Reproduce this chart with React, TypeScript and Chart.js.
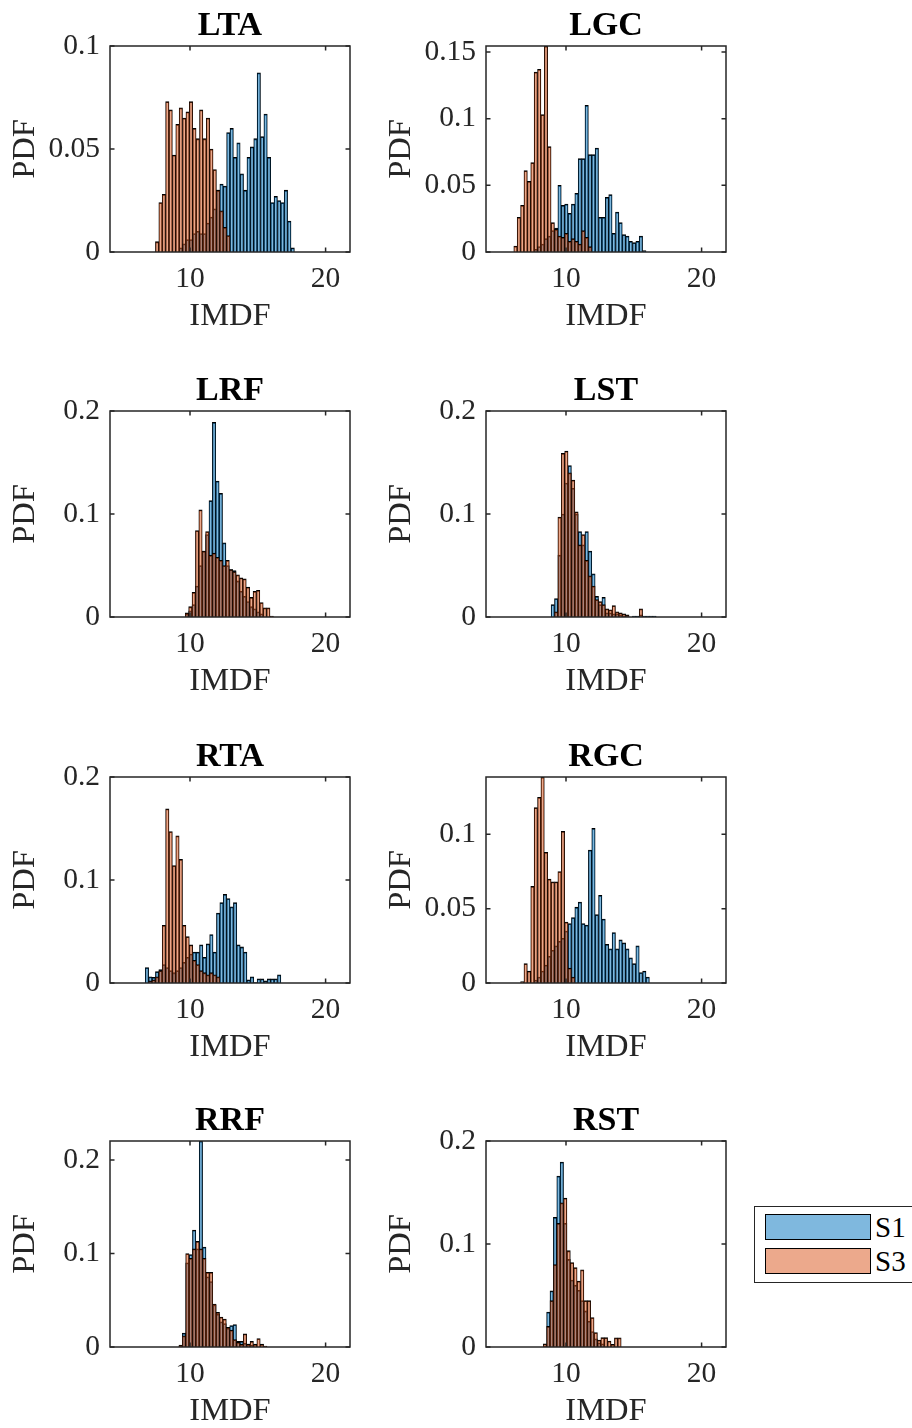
import React, { useEffect, useRef } from "react";
import { Chart, registerables } from "chart.js";

Chart.register(...registerables);

// ---------------- data ----------------
const TITLES = ["LTA", "LGC", "LRF", "LST", "RTA", "RGC", "RRF", "RST"];
const SERIES_NAMES = ["S1", "S3"];
const X_LABEL = "IMDF";
const Y_LABEL = "PDF";
const BIN_WIDTH = 0.25;
const X_MIN = 4.1;
const X_MAX = 21.8;
const X_TICKS = [10, 20];

const Y_TICKS_LTA = [0, 0.05, 0.1];
const Y_TICKS_LGC = [0, 0.05, 0.1, 0.15];
const Y_TICKS_020 = [0, 0.1, 0.2];
const Y_TICKS_RGC = [0, 0.05, 0.1];
const Y_TICKS = [Y_TICKS_LTA, Y_TICKS_LGC, Y_TICKS_020, Y_TICKS_020, Y_TICKS_020, Y_TICKS_RGC, Y_TICKS_020, Y_TICKS_020];
const Y_MAX = [0.1, 0.1545, 0.2, 0.2, 0.2, 0.1386, 0.2204, 0.2];

// left edge of the first bin of each series, per panel
const S1_START = [9.2, 7.65, 9.65, 8.9, 6.7, 7.65, 9.18, 8.32];
const S3_START = [7.45, 6.15, 9.65, 9.15, 6.95, 6.65, 9.18, 8.32];

const S1_LTA = [0.002, 0.004, 0.006, 0.006, 0.009, 0.01, 0.009, 0.009, 0.014, 0.017, 0.021, 0.03, 0.033, 0.032, 0.058, 0.06, 0.046, 0.053, 0.038, 0.03, 0.046, 0.051, 0.055, 0.087, 0.056, 0.067, 0.046, 0.024, 0.027, 0.025, 0.024, 0.03, 0.015, 0.002];
const S3_LTA = [0.005, 0.024, 0.028, 0.073, 0.069, 0.047, 0.062, 0.07, 0.065, 0.068, 0.073, 0.06, 0.055, 0.069, 0.055, 0.065, 0.05, 0.04, 0.03, 0.02, 0.012, 0.008];

const S1_LGC = [0.002, 0.004, 0.006, 0.01, 0.012, 0.016, 0.018, 0.05, 0.035, 0.036, 0.029, 0.036, 0.044, 0.07, 0.07, 0.11, 0.073, 0.073, 0.078, 0.026, 0.026, 0.041, 0.043, 0.014, 0.03, 0.022, 0.013, 0.012, 0.008, 0.007, 0.008, 0.012, 0.001];
const S3_LGC = [0.0045, 0.026, 0.035, 0.061, 0.053, 0.067, 0.135, 0.137, 0.103, 0.1545, 0.079, 0.022, 0.017, 0.012, 0.011, 0.014, 0.008, 0.01, 0.008, 0.006, 0.016, 0.011, 0.004];

const S1_LRF = [0.003, 0.006, 0.012, 0.03, 0.05, 0.064, 0.08, 0.113, 0.189, 0.132, 0.12, 0.072, 0.05, 0.046, 0.045, 0.035, 0.025, 0.02, 0.015, 0.01, 0.008, 0.005, 0.003];
const S3_LRF = [0.004, 0.01, 0.024, 0.084, 0.104, 0.064, 0.083, 0.06, 0.062, 0.058, 0.055, 0.05, 0.055, 0.046, 0.044, 0.041, 0.038, 0.037, 0.029, 0.019, 0.025, 0.026, 0.014, 0.009, 0.009, 0.001];

const S1_LST = [0.012, 0.018, 0.06, 0.1, 0.13, 0.147, 0.125, 0.1, 0.083, 0.07, 0.083, 0.064, 0.042, 0.02, 0.012, 0.019, 0.004, 0.004, 0.003, 0.003, 0.002, 0.001, 0.001, 0, 0.001, 0.001, 0.002, 0.001, 0.001, 0.001, 0.001];
const S3_LST = [0.005, 0.097, 0.159, 0.161, 0.14, 0.133, 0.102, 0.07, 0.08, 0.055, 0.04, 0.03, 0.017, 0.015, 0.012, 0.008, 0.007, 0.011, 0.005, 0.004, 0.003, 0.002, 0, 0, 0, 0.008];

const S1_RTA = [0.015, 0.006, 0.0055, 0.011, 0.013, 0.018, 0.015, 0.012, 0.01, 0.012, 0.015, 0.02, 0.025, 0.028, 0.03, 0.03, 0.037, 0.025, 0.038, 0.047, 0.03, 0.068, 0.078, 0.086, 0.082, 0.074, 0.078, 0.037, 0.035, 0.03, 0.003, 0.006, 0.0005, 0.004, 0.004, 0.002, 0.004, 0.004, 0.004, 0.008];
const S3_RTA = [0.002, 0.003, 0.006, 0.012, 0.056, 0.169, 0.147, 0.114, 0.143, 0.12, 0.056, 0.045, 0.037, 0.022, 0.018, 0.012, 0.01, 0.008, 0.01, 0.008, 0.006];

const S1_RGC = [0.002, 0.004, 0.008, 0.012, 0.018, 0.022, 0.025, 0.028, 0.03, 0.035, 0.04, 0.044, 0.051, 0.0545, 0.04, 0.039, 0.0895, 0.104, 0.046, 0.059, 0.043, 0.026, 0.023, 0.034, 0.023, 0.029, 0.027, 0.023, 0.017, 0.013, 0.025, 0.007, 0.008, 0.004];
const S3_RGC = [0.001, 0.013, 0.008, 0.065, 0.118, 0.125, 0.1386, 0.088, 0.07, 0.068, 0.068, 0.075, 0.102, 0.041, 0.01, 0.004];

const S1_RRF = [0.001, 0.015, 0.09, 0.099, 0.125, 0.105, 0.2204, 0.107, 0.075, 0.07, 0.045, 0.035, 0.027, 0.025, 0.02, 0.023, 0.024, 0.006, 0.006, 0.004, 0.003, 0.002];
const S3_RRF = [0.002, 0.012, 0.1, 0.095, 0.105, 0.113, 0.105, 0.095, 0.08, 0.08, 0.046, 0.037, 0.032, 0.03, 0.021, 0.018, 0.008, 0.005, 0.003, 0.014, 0.003, 0.006, 0.003, 0.009, 0.003, 0.001];

const S1_RST = [0.001, 0.034, 0.0545, 0.126, 0.166, 0.1796, 0.12, 0.085, 0.065, 0.06, 0.055, 0.045, 0.035, 0.025, 0.015, 0.008, 0.004, 0.003];
const S3_RST = [0.003, 0.02, 0.045, 0.08, 0.12, 0.14, 0.1445, 0.0935, 0.082, 0.077, 0.064, 0.075, 0.045, 0.045, 0.0286, 0.014, 0.0068, 0.0091, 0.0091, 0.0058, 0.0026, 0.009, 0.009];

const S1 = [S1_LTA, S1_LGC, S1_LRF, S1_LST, S1_RTA, S1_RGC, S1_RRF, S1_RST];
const S3 = [S3_LTA, S3_LGC, S3_LRF, S3_LST, S3_RTA, S3_RGC, S3_RRF, S3_RST];

// ---------------- style ----------------
const FONT = '"Liberation Serif", "Times New Roman", Times, serif';
const BLUE = "rgba(0,114,189,0.5)";
const ORANGE = "rgba(217,83,25,0.5)";
const EDGE = "#000000";
const AXIS = "#262626";

const CANVAS_W = 370;
const CANVAS_H = 332;
const COL_LEFT = [0, 376];
const ROW_TOP = [1, 366, 732, 1096];

const toPoints = (start: number, vals: number[]) =>
  vals.map((v, i) => ({
    x: Math.round((start + BIN_WIDTH * (i + 0.5)) * 10000) / 10000,
    y: v,
  }));

const boxPlugin = {
  id: "matlabBox",
  afterDraw(chart: any) {
    const { ctx, chartArea, scales } = chart;
    const { left, right, top, bottom } = chartArea;
    const x = scales.x;
    const y = scales.y;
    const tl = 4.5;
    ctx.save();
    ctx.strokeStyle = AXIS;
    ctx.lineWidth = 1.5;
    ctx.strokeRect(left, top, right - left, bottom - top);
    ctx.beginPath();
    for (const t of x.ticks) {
      const px = x.getPixelForValue(t.value);
      ctx.moveTo(px, bottom);
      ctx.lineTo(px, bottom - tl);
      ctx.moveTo(px, top);
      ctx.lineTo(px, top + tl);
    }
    for (const t of y.ticks) {
      const py = y.getPixelForValue(t.value);
      ctx.moveTo(left, py);
      ctx.lineTo(left + tl, py);
      ctx.moveTo(right, py);
      ctx.lineTo(right - tl, py);
    }
    ctx.stroke();
    ctx.restore();
  },
};

function Panel({ idx }: { idx: number }) {
  const ref = useRef<HTMLCanvasElement | null>(null);
  useEffect(() => {
    if (!ref.current) return;
    const barStyle = {
      borderColor: EDGE,
      borderWidth: { top: 1.1, left: 0.6, right: 0.6, bottom: 0 },
      grouped: false,
      barPercentage: 1,
      categoryPercentage: 1,
    };
    const chart = new Chart(ref.current, {
      type: "bar",
      data: {
        datasets: [
          {
            label: SERIES_NAMES[0],
            data: toPoints(S1_START[idx], S1[idx]),
            backgroundColor: BLUE,
            order: 1,
            ...barStyle,
          } as any,
          {
            label: SERIES_NAMES[1],
            data: toPoints(S3_START[idx], S3[idx]),
            backgroundColor: ORANGE,
            order: 0,
            ...barStyle,
          } as any,
        ],
      },
      options: {
        responsive: false,
        animation: false,
        devicePixelRatio: 1,
        layout: { padding: { left: 0, right: 20, top: 0, bottom: 0 } },
        plugins: {
          legend: { display: false },
          tooltip: { enabled: false },
          title: {
            display: true,
            text: TITLES[idx],
            fullSize: false,
            color: "#000",
            font: { family: FONT, size: 34, weight: "bold", lineHeight: 1 },
            padding: { top: 8, bottom: 3 },
          },
        },
        scales: {
          x: {
            type: "linear",
            min: X_MIN,
            max: X_MAX,
            offset: false,
            grid: { display: false, drawTicks: false },
            border: { display: false },
            afterBuildTicks: (s: any) => {
              s.ticks = X_TICKS.map((v) => ({ value: v }));
            },
            afterFit: (s: any) => {
              s.height = 81;
            },
            ticks: {
              color: AXIS,
              font: { family: FONT, size: 29.5, lineHeight: 1 },
              padding: 12.75,
              maxRotation: 0,
              autoSkip: false,
              callback: (v: any) => String(v),
            },
            title: {
              display: true,
              text: X_LABEL,
              color: AXIS,
              font: { family: FONT, size: 32.5, lineHeight: 1 },
              padding: { top: 0, bottom: 0.5 },
            },
          },
          y: {
            type: "linear",
            min: 0,
            max: Y_MAX[idx],
            grid: { display: false, drawTicks: false },
            border: { display: false },
            afterBuildTicks: (s: any) => {
              s.ticks = Y_TICKS[idx].map((v) => ({ value: v }));
            },
            afterFit: (s: any) => {
              s.width = 110;
            },
            ticks: {
              color: AXIS,
              font: { family: FONT, size: 29.5, lineHeight: 1 },
              padding: 10,
              autoSkip: false,
              callback: (v: any) => String(v),
            },
            title: {
              display: true,
              text: Y_LABEL,
              color: AXIS,
              font: { family: FONT, size: 32.5, lineHeight: 1 },
              padding: { top: 9.25, bottom: 0 },
            },
          },
        },
      } as any,
      plugins: [boxPlugin],
    });
    return () => chart.destroy();
  }, [idx]);

  const col = idx % 2;
  const row = Math.floor(idx / 2);
  return (
    <canvas
      ref={ref}
      width={CANVAS_W}
      height={CANVAS_H}
      style={{
        position: "absolute",
        left: COL_LEFT[col],
        top: ROW_TOP[row],
        width: CANVAS_W,
        height: CANVAS_H,
      }}
    />
  );
}

function Legend() {
  const patch = (color: string, top: number) => ({
    position: "absolute" as const,
    left: 10,
    top,
    width: 104,
    height: 24,
    background: color,
    border: "1px solid #000",
  });
  const label = (top: number) => ({
    position: "absolute" as const,
    left: 120,
    top,
    fontFamily: FONT,
    fontSize: 29,
    lineHeight: "26px",
    color: "#000",
    whiteSpace: "nowrap" as const,
  });
  return (
    <div
      style={{
        position: "absolute",
        left: 754,
        top: 1206,
        width: 170,
        height: 77,
        border: "1.3px solid #262626",
        background: "#fff",
        boxSizing: "border-box",
      }}
    >
      <div style={patch(BLUE, 7)} />
      <div style={label(7)}>{SERIES_NAMES[0]}</div>
      <div style={patch(ORANGE, 41)} />
      <div style={label(41)}>{SERIES_NAMES[1]}</div>
    </div>
  );
}

export default function App() {
  return (
    <div
      style={{
        position: "absolute",
        left: 0,
        top: 0,
        width: 912,
        height: 1428,
        overflow: "hidden",
        background: "#fff",
      }}
    >
      {TITLES.map((_, i) => (
        <Panel key={i} idx={i} />
      ))}
      <Legend />
    </div>
  );
}
